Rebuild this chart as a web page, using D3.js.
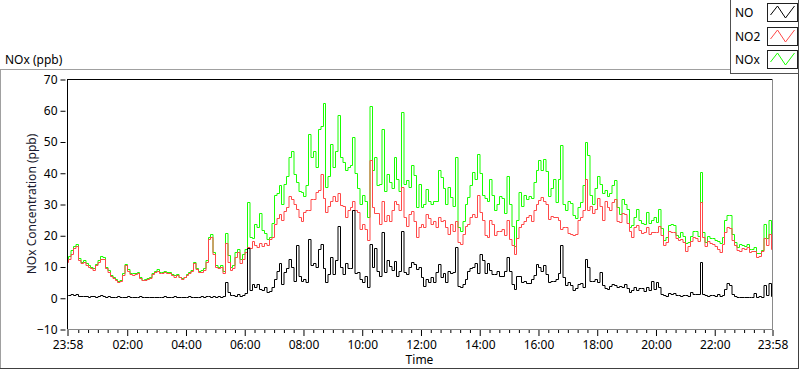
<!DOCTYPE html>
<html lang=en>
<head>
	<meta charset="utf-8">
	<title>NOx chart</title>
	<script src="https://d3js.org/d3.v7.min.js"></script>
	<style>
		body { margin: 0; background: #fff; }
		svg { display: block; font-family: "Noto Sans", "DejaVu Sans", sans-serif; }
	</style>
</head>
<body>
	<script type="text/javascript">
	// one sample every 5 minutes, 23:58 -> 23:58 next day
	var stepMinutes = 5;

	var noValues = [
		1.0,0.8,1.2,0.9,1.1,0.7,0.6,0.5,0.6,0.4,0.5,0.6,0.4,0.7,0.8,0.5,0.4,0.6,0.3,0.4,0.3,0.5,0.3,0.4,0.3,0.6,0.3,0.4,0.3,0.3,
		0.5,0.2,0.3,0.4,0.3,0.3,0.2,0.4,0.3,0.3,0.5,0.3,0.4,0.3,0.6,0.3,0.3,0.4,0.3,0.3,0.5,0.4,0.3,0.4,0.3,0.5,0.4,0.5,0.6,0.4,
		0.5,0.4,0.5,0.4,0.6,5.2,2.0,0.8,1.0,0.7,1.2,0.6,0.8,
		1.5,16,2.5,4.4,3.5,4.5,2.8,2.5,3.5,1.8,2.2,3.5,6,8.6,11,4.5,8.1,9.5,12.4,10,5.5,17,7,5.5,6,5,18.8,10.5,11,9.7,
		15.5,17.2,9.5,4.9,7.5,12.9,7.5,12,23,9.7,7.6,11,9.5,9.5,28,8,8.1,6,
		5,7,3.5,17.2,10,16,8.6,7,21,8.1,12,10.3,9,11.9,7,8.6,21.5,8.1,7.6,9.7,11.3,10.8,9.2,9.7,6.5,3.8,6,5,6.5,5,
		8.1,10.8,6.5,8,4.9,8.6,8,8.1,16.2,3.8,3.3,4.4,6,8.6,9.5,9.7,11,8,
		14,12,8,11,9,7.5,7.5,8.5,7,7,8.6,13,8.6,4.5,2.8,7,7,5,5.5,4.8,4.6,6,7.3,10.8,10,8.5,10.5,7.5,5,5.4,
		5.5,6,8,17,6.7,4,5,4.2,2.5,3,4.5,4.8,3.5,12.5,9.7,5.5,5.4,6,
		5,8.2,4,3,2.9,3.7,4.5,4,3.5,3.7,3.5,4.3,3,1.7,2.5,3.3,2.5,3.2,3,2.2,3.5,2.4,5.5,2.8,5.2,3.5,1.1,0.9,0.6,1.4,
		1.1,1.5,0.8,0.8,0.7,1,1,0.7,1.8,1.2,1.3,1.1,11.3,1.1,0.8,0.6,1,0.9,0.7,1.1,0.6,1.0,2.9,4.6,4,1.2,0.6,0.3,0.3,0.3,
		0.1,0.3,0.3,0.2,1.5,0.4,0.5,0.2,4,1,4.6,0.6
	];

	var no2Values = [
		11.5,12.5,14,15.8,16.5,12,11,11.5,10.5,10,9.5,9,10.5,11.5,12.5,12.5,9.5,8.2,7,6.2,5.8,5,5.3,7.4,10.5,8.5,7.5,7.4,7.6,7.8,
		6.3,5.6,5.6,5.9,6.3,7.5,8.3,8.7,7.8,8,8.2,7.9,7.9,7.2,6.8,7.4,6.5,6,6.5,7.4,7.8,8.5,11.2,9.2,8.4,8.4,9,11.5,18.8,19.5,
		14,10,9.5,10,8,17.5,11.6,9,9.5,13,14.5,11,12.4,
		14.5,16.2,16,18.3,17,16.2,17.5,16.5,17.5,16.8,18.8,19.5,23.5,25.5,26.9,25,27.9,29,32.7,31.5,30.1,28.5,26,24.5,27.5,28,28,31.5,31.5,34,
		34.5,39.5,32,27.4,29.5,31.1,32.5,31.1,33.5,29.8,29.5,26,28,29,31,28,27.5,22,
		23.6,22,18.5,44,29,27,27,23.6,31,24.7,26.5,24.7,28,31.1,30,28,35.4,25.8,23.1,26.9,27.9,24.7,19.3,22.6,23.6,22.6,26.9,25.5,23.6,24.5,
		22.6,25.8,24.7,25,22.6,20.4,23.6,21.5,24.7,17.7,17.2,20.4,23.1,23.6,26,26.9,26,33,
		27.5,25,20,19.5,25,23.6,20,21.5,21.5,22,20,25,18.8,17,14,19,22.6,23.5,24.5,25.8,26.5,24.5,28,30.1,31.3,32.2,31.1,30,25.3,26.3,
		26,25.8,25,22,22.5,22.6,20.7,20.4,20.2,20.5,25,26,28,38,28,29.5,27,28.5,
		32,29.5,25,31,29.2,28,30.5,31.7,24.5,24.2,27,26.9,24,21.5,19.6,22.6,23.3,21.7,20.8,21,22.8,20.5,21,21,21,23,20.2,17,17.8,21.5,
		21,21.2,19,18.5,18.8,18,15,16.5,18.1,19.3,19.2,18.3,30.6,19.4,16.5,18.3,17.5,17.3,16.5,15.7,14.5,17.3,21,22.8,22.3,18.5,17,15.3,15.1,15.9,
		15.6,16.4,14.5,15,15,13.2,13.3,15,19,17,20.5,15.6
	];

	var noxValues = [
		12.4,13.3,15.2,16.7,17.2,12.7,11.6,12.0,11.1,10.4,10,9.6,10.9,12.2,13.3,13.2,9.9,8.8,7.3,6.6,6.1,5.5,5.6,7.8,10.8,9.1,7.8,7.8,7.9,8.1,
		6.8,5.8,5.9,6.3,6.6,7.8,8.5,9.1,8.1,8.3,8.7,8.2,8.3,7.5,7.4,7.7,6.8,6.4,6.8,7.7,8.3,8.9,11.5,9.6,8.7,8.9,9.4,12.0,19.4,20.4,
		14.5,10.4,10,10.4,8.6,20.7,13.6,9.8,10.5,14.5,15.5,12.5,14,
		15.5,30.6,19.5,19,23.5,22.6,27,21.8,20.8,18.8,19.5,24,33,33.5,36,30,36.5,39,45,47,39.5,37,34.3,33.8,32.5,36,52.5,45,47,42,
		54,55,62.2,35.4,39,49.3,42,47,58.4,45.1,43.5,41,42,42.5,51.5,40,35,30,
		33,31,26,61.5,41,45,36,36.5,54,34.3,39.5,37,35,45.1,38,34.3,59.5,36.5,37.6,35.5,42.4,39.2,29,36.5,29,30.1,34.9,31,30.1,31,
		31.1,40.8,38.6,35,30.1,35.4,32.2,29.5,45.1,22.6,21.5,24.7,30.1,32.2,36,40.2,38,46,
		40,33,32,31,38,33,28,30,32.7,32,27,39,30,23,16.5,25,34,29.5,33,31.7,32.5,32,37,41,44,41,44.5,40.5,32.5,35,
		38,30.5,38,49,30,28,31,30.2,26.5,25.5,29,30.5,36,50,45.6,33,30.1,35,
		39,36.5,33.5,34.5,32.5,33.5,36,37.6,29,26.9,31.5,30.1,28.5,22.6,23.4,25.8,28.4,25,24,23.6,27.5,24,25,26,24.2,28.5,22.2,18.6,19.4,23.4,
		23.6,23.4,20.1,19.5,21,19.8,17.5,17.9,19.8,21.3,21.5,19.9,40.2,21,18,19.9,19,19,18.6,18.2,17.5,19.6,25,26.5,26.5,20.5,18,16.3,17.2,16.9,
		16.7,17.2,15.6,15.6,16.1,14.2,14.4,15.4,23.5,19.2,25,18.3
	];

	var seriesNames = ["NO", "NO2", "NOx"];
	var seriesColors = ["#000000", "#ff4848", "#19ff00"];
	var yTicks = [-10, 0, 10, 20, 30, 40, 50, 60, 70];

	var startTime = new Date(2000, 0, 1, 23, 58);
	var endTime = new Date(2000, 0, 2, 23, 58);

	var width = 800, height = 369;
	var plotLeft = 67, plotRight = 772, plotTop = 79, plotBottom = 329;

	var svg = d3.select('body')
		.append('svg')
		.attr('width', width)
		.attr('height', height);

	// outer panel frame
	svg.append('line').attr('x1', 0).attr('x2', 731).attr('y1', 69.5).attr('y2', 69.5).attr('stroke', '#a0a0a0');
	svg.append('line').attr('x1', 0.5).attr('x2', 0.5).attr('y1', 69).attr('y2', 369).attr('stroke', '#a0a0a0');
	svg.append('line').attr('x1', 798.5).attr('x2', 798.5).attr('y1', 69).attr('y2', 369).attr('stroke', '#404040');
	svg.append('line').attr('x1', 0).attr('x2', 799).attr('y1', 368.5).attr('y2', 368.5).attr('stroke', '#404040');

	svg.append('text')
		.text('NOx (ppb)')
		.attr('x', 5)
		.attr('y', 64)
		.attr('font-size', 12)
		.attr('fill', '#000');

	var x = d3.scaleTime()
		.domain([startTime, endTime])
		.range([plotLeft, plotRight]);

	var y = d3.scaleLinear()
		.domain([-10, 70])
		.range([plotBottom, plotTop]);

	// y axis
	var yAxis = d3.axisLeft(y)
		.tickValues(yTicks)
		.tickSize(5)
		.tickPadding(3);

	var gy = svg.append('g')
		.attr('transform', 'translate(' + (plotLeft - 1.5) + ',0.5)')
		.call(yAxis);
	gy.select('.domain').remove();
	gy.selectAll('text').attr('font-size', 12).attr('fill', '#000').attr('font-family', '"Noto Sans", sans-serif');

	svg.append('text')
		.text('NOx Concentration (ppb)')
		.attr('transform', 'translate(36,' + ((plotTop + plotBottom) / 2) + ') rotate(-90)')
		.attr('text-anchor', 'middle')
		.attr('font-size', 12)
		.attr('fill', '#1a1a2e');

	// x axis: major ticks every 2 hours plus both ends, minor every 20 min
	var majorTicks = [startTime].concat(d3.timeHour.every(2).range(new Date(2000, 0, 2, 2, 0), endTime)).concat([endTime]);
	var minorTicks = d3.timeMinute.every(20).range(new Date(2000, 0, 2, 0, 0), endTime)
		.filter(function(d){ return d.getMinutes() != 0 || d.getHours() % 2 != 0; });

	var fmt = d3.timeFormat('%H:%M');

	var gxMinor = svg.append('g')
		.attr('transform', 'translate(0.5,' + (plotBottom + 1) + ')')
		.call(d3.axisBottom(x).tickValues(minorTicks).tickSize(3).tickFormat(''));
	gxMinor.select('.domain').remove();

	var gx = svg.append('g')
		.attr('transform', 'translate(0.5,' + (plotBottom + 1) + ')')
		.call(d3.axisBottom(x).tickValues(majorTicks).tickSize(6).tickPadding(4).tickFormat(fmt));
	gx.select('.domain').remove();
	gx.selectAll('text').attr('font-size', 12).attr('fill', '#000').attr('font-family', '"Noto Sans", sans-serif');

	svg.append('text')
		.text('Time')
		.attr('x', (plotLeft + plotRight) / 2)
		.attr('y', 364)
		.attr('text-anchor', 'middle')
		.attr('font-size', 12)
		.attr('fill', '#000');

	// plot area
	svg.append('defs').append('clipPath').attr('id', 'clip')
		.append('rect')
		.attr('x', plotLeft + 1).attr('y', plotTop + 1)
		.attr('width', plotRight - plotLeft - 1).attr('height', plotBottom - plotTop - 1);

	var series = [noValues, no2Values, noxValues];

	// step drawing snapped to pixel centres, like the logger's dense trace
	var line = d3.line()
		.curve(d3.curveStep)
		.x(function(d, i){ return Math.round(x(new Date(startTime.getTime() + i * stepMinutes * 60000))) + 0.5; })
		.y(function(d){ return Math.round(y(d)) + 0.5; });

	var plot = svg.append('g').attr('clip-path', 'url(#clip)');

	// NOx underneath, then NO2, then NO
	[2, 1, 0].forEach(function(s){
		plot.append('path')
			.datum(series[s])
			.attr('d', line)
			.attr('fill', 'none')
			.attr('stroke', seriesColors[s])
			.attr('stroke-width', 1);
	});

	svg.append('line').attr('x1', plotLeft).attr('x2', plotRight).attr('y1', plotTop + 0.5).attr('y2', plotTop + 0.5).attr('stroke', '#000');
	svg.append('line').attr('x1', plotLeft + 0.5).attr('x2', plotLeft + 0.5).attr('y1', plotTop).attr('y2', plotBottom + 1).attr('stroke', '#000');
	svg.append('line').attr('x1', plotRight + 0.5).attr('x2', plotRight + 0.5).attr('y1', plotTop).attr('y2', plotBottom + 1).attr('stroke', '#8a8a8a');
	svg.append('line').attr('x1', plotLeft).attr('x2', plotRight + 1).attr('y1', plotBottom + 0.5).attr('y2', plotBottom + 0.5).attr('stroke', '#8a8a8a');

	// legend
	var legend = svg.append('g');
	legend.append('rect')
		.attr('x', 730.5).attr('y', -1)
		.attr('width', 68).attr('height', 74.5)
		.attr('fill', '#fff')
		.attr('stroke', '#505050');

	var swatchY = [3, 27, 50];
	seriesNames.forEach(function(name, i){
		legend.append('text')
			.text(name)
			.attr('x', 735)
			.attr('y', swatchY[i] + 14)
			.attr('font-size', 12)
			.attr('fill', '#000');
		legend.append('rect')
			.attr('x', 767.5).attr('y', swatchY[i] + 0.5)
			.attr('width', 30).attr('height', 18)
			.attr('fill', '#fff')
			.attr('stroke', '#202020');
		var sx = 767.5, sy = swatchY[i];
		legend.append('path')
			.attr('d', 'M' + (sx + 3) + ',' + (sy + 12) + 'L' + (sx + 10) + ',' + (sy + 3) +
				'L' + (sx + 18) + ',' + (sy + 15) + 'L' + (sx + 27) + ',' + (sy + 3))
			.attr('fill', 'none')
			.attr('stroke', seriesColors[i])
			.attr('stroke-width', 1);
	});
	</script>
</body>
</html>
